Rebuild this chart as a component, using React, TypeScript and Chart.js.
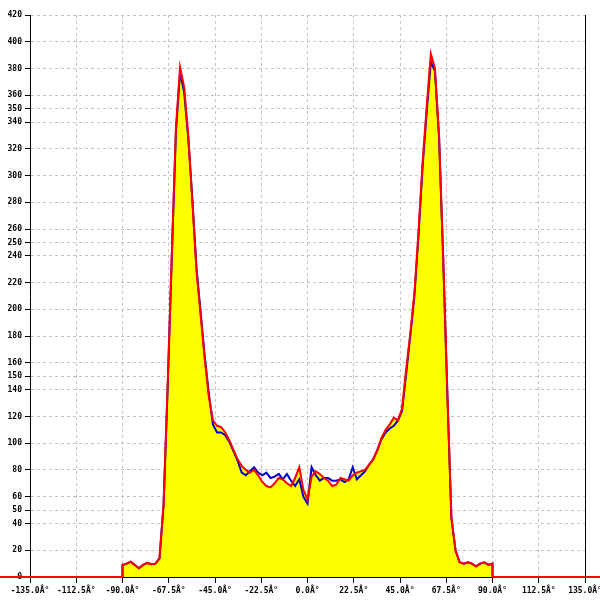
import React, { useEffect, useRef } from "react";
import { Chart, registerables } from "chart.js";

Chart.register(...registerables);

const angles = [
  -90, -88, -86, -84, -82, -80, -78, -76, -74, -72, -70, -68, -66, -64, -62, -60,
  -58, -56, -54, -52, -50, -48, -46, -44, -42, -40, -38, -36, -34, -32, -30, -28,
  -26, -24, -22, -20, -18, -16, -14, -12, -10, -8, -6, -4, -2, 0, 2, 4, 6, 8, 10,
  12, 14, 16, 18, 20, 22, 24, 26, 28, 30, 32, 34, 36, 38, 40, 42, 44, 46, 48, 50,
  52, 54, 56, 58, 60, 62, 64, 66, 68, 70, 72, 74, 76, 78, 80, 82, 84, 86, 88, 90,
];

const redValues = [
  9, 10, 11.5, 9, 6.5, 9, 10.5, 9.5, 10, 14, 55, 145, 242, 336, 381, 366,
  330, 280, 229, 196, 163, 135, 117, 113, 112, 108, 102, 95, 88, 83, 80, 78,
  80, 76, 71, 68, 67, 70, 74, 73, 70, 68, 74, 82, 65, 58, 75, 79, 77, 74, 72,
  68, 69, 74, 73, 72, 76, 78, 79, 80, 84, 88, 95, 104, 110, 114, 119, 117, 126, 155, 182,
  212, 258, 310, 352, 391, 380, 330, 240, 140, 45, 20, 11, 10, 11, 10, 8, 10, 11, 9, 10,
];

const blueValues = [
  9, 10, 11.5, 9, 6.5, 9, 10.5, 9.5, 10, 14, 54, 143, 240, 333, 377, 362,
  328, 282, 231, 198, 165, 137, 114, 108, 108, 106, 101, 94, 87, 78, 76, 79,
  82, 78, 76, 78, 74, 75, 77, 73, 77, 72, 68, 73, 60, 55, 82, 76, 72, 74, 74,
  72, 72, 73, 71, 73, 82, 73, 76, 79, 84, 88, 95, 103, 108, 111, 113, 117, 124, 152, 180,
  210, 255, 307, 348, 385, 378, 328, 238, 138, 44, 20, 11, 10, 11, 10, 8, 10, 11, 9, 10,
];

const yTickValues = [
  0, 20, 40, 50, 60, 80, 100, 120, 140, 150, 160, 180, 200, 220, 240, 250, 260,
  280, 300, 320, 340, 350, 360, 380, 400, 420,
];

const xMin = -135;
const xMax = 135;
const xStep = 22.5;
const baselineLeft = -150;
const baselineRight = 150;

function buildSeries(values: number[]) {
  const pts = [{ x: baselineLeft, y: 0 }, { x: angles[0], y: 0 }];
  angles.forEach((a, i) => pts.push({ x: a, y: values[i] }));
  pts.push({ x: angles[angles.length - 1], y: 0 });
  pts.push({ x: baselineRight, y: 0 });
  return pts;
}

const rightBorderPlugin = {
  id: "rightBorder",
  afterDraw(chart: any) {
    const { ctx, chartArea, scales } = chart;
    const x = Math.round(scales.x.getPixelForValue(xMax)) + 0.5;
    ctx.save();
    ctx.strokeStyle = "#000";
    ctx.lineWidth = 1;
    ctx.beginPath();
    ctx.moveTo(x, chartArea.top);
    ctx.lineTo(x, chartArea.bottom);
    ctx.stroke();
    ctx.restore();
  },
};

export default function App() {
  const ref = useRef<HTMLCanvasElement>(null);

  useEffect(() => {
    document.body.style.margin = "0";
    const font = { family: "'DejaVu Sans Mono', monospace", size: 8, weight: "bold" as const };
    const chart = new Chart(ref.current!, {
      type: "line",
      data: {
        datasets: [
          {
            label: "red",
            data: buildSeries(redValues),
            borderColor: "#ff0000",
            backgroundColor: "#ffff00",
            borderWidth: 2,
            pointRadius: 0,
            fill: "origin",
            tension: 0,
            clip: false as any,
          },
          {
            label: "blue",
            data: buildSeries(blueValues),
            borderColor: "#0000cc",
            borderWidth: 2,
            pointRadius: 0,
            fill: false,
            tension: 0,
            clip: false as any,
          },
        ],
      },
      options: {
        animation: false,
        responsive: false,
        maintainAspectRatio: false,
        layout: { autoPadding: false, padding: { top: 15, right: 15, left: 0, bottom: 0 } },
        plugins: {
          legend: { display: false },
          tooltip: { enabled: false },
          filler: { drawTime: "beforeDatasetsDraw" },
        },
        scales: {
          x: {
            type: "linear",
            min: xMin,
            max: xMax,
            ticks: {
              stepSize: xStep,
              color: "#000",
              font,
              maxRotation: 0,
              autoSkip: false,
              padding: 3,
              callback: (v: any) => `${Number(v).toFixed(1)}Â°`,
            },
            grid: {
              color: "#c4c4c4",
              tickColor: "#000",
              tickLength: 6,
            },
            border: { display: true, color: "#000", width: 1, dash: [3, 3] },
            afterFit: (s: any) => {
              s.height = 23;
              s.paddingRight = 15;
              s.paddingLeft = 0;
            },
          },
          y: {
            type: "linear",
            min: 0,
            max: 420,
            afterBuildTicks: (s: any) => {
              s.ticks = yTickValues.map((v) => ({ value: v }));
            },
            ticks: {
              color: "#000",
              font,
              padding: 3,
              autoSkip: false,
            },
            grid: {
              color: "#c4c4c4",
              tickColor: "#000",
              tickLength: 5,
            },
            border: { display: true, color: "#000", width: 1, dash: [3, 3] },
            afterFit: (s: any) => {
              s.width = 30;
              s.paddingTop = 0;
              s.paddingBottom = 0;
            },
          },
        },
      },
      plugins: [rightBorderPlugin],
    });
    return () => chart.destroy();
  }, []);

  return (
    <div style={{ position: "absolute", left: 0, top: 0, width: 600, height: 600, background: "#fff" }}>
      <canvas ref={ref} width={600} height={600} style={{ width: 600, height: 600 }} />
    </div>
  );
}
